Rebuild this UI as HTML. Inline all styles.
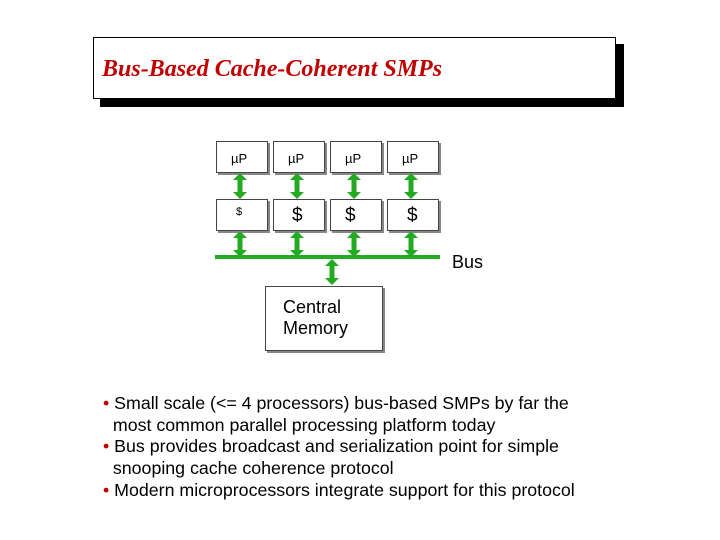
<!DOCTYPE html>
<html><head><meta charset="utf-8"><style>
body{margin:0;width:720px;height:540px;background:#fff;position:relative;overflow:hidden;font-family:"Liberation Sans",sans-serif}
.shadow{position:absolute;left:100px;top:44px;width:524px;height:63px;background:#000}
.title{position:absolute;left:93px;top:37px;width:521px;height:60px;border:1px solid #000;background:#fff}
.title span{position:absolute;left:8px;top:18px;font-family:"Liberation Serif",serif;font-style:italic;font-weight:bold;font-size:24px;color:#c00000}
.box{position:absolute;border:1px solid #444;box-shadow:2px 2px 0 #888;background:#fff;font-size:13px}
.txt{position:absolute;left:103px;font-size:17.8px;line-height:21.7px;top:393px;color:#000;white-space:nowrap}
.b{color:#c00000}
</style></head><body>
<div class="shadow"></div>
<div class="title"><span>Bus-Based Cache-Coherent SMPs</span></div>
<div class="box" style="left:216px;top:141px;width:50px;height:30px"><span style="position:absolute;left:14px;top:9px">µP</span></div>
<div class="box" style="left:273px;top:141px;width:50px;height:30px"><span style="position:absolute;left:14px;top:9px">µP</span></div>
<div class="box" style="left:330px;top:141px;width:50px;height:30px"><span style="position:absolute;left:14px;top:9px">µP</span></div>
<div class="box" style="left:387px;top:141px;width:50px;height:30px"><span style="position:absolute;left:14px;top:9px">µP</span></div>
<div class="box" style="left:216px;top:199px;width:50px;height:30px"><span style="position:absolute;left:19px;top:6px;font-size:11px">$</span></div>
<div class="box" style="left:273px;top:199px;width:50px;height:30px"><span style="position:absolute;left:18px;top:5px;font-size:19px">$</span></div>
<div class="box" style="left:330px;top:199px;width:50px;height:30px"><span style="position:absolute;left:14px;top:5px;font-size:19px">$</span></div>
<div class="box" style="left:387px;top:199px;width:50px;height:30px"><span style="position:absolute;left:19px;top:5px;font-size:19px">$</span></div>
<div class="box" style="left:265px;top:286px;width:116px;height:63px;font-size:18px"><div style="position:absolute;left:17px;top:10px;line-height:21px">Central<br>Memory</div></div>
<svg width="720" height="540" style="position:absolute;left:0;top:0">
<defs><g id="a"><rect x="-2.5" y="6" width="5" height="14" fill="#22aa22"/><polygon points="-7,7 7,7 0,0" fill="#22aa22"/><polygon points="-7,19 7,19 0,26" fill="#22aa22"/></g></defs>
<g fill="#22aa22">
<use href="#a" x="240" y="173"/><use href="#a" x="297" y="173"/><use href="#a" x="354" y="173"/><use href="#a" x="411" y="173"/>
<use href="#a" x="240" y="231"/><use href="#a" x="297" y="231"/><use href="#a" x="354" y="231"/><use href="#a" x="411" y="231"/>
<use href="#a" x="332" y="259"/>
<rect x="215" y="255" width="225" height="4"/>
</g>
<text x="452" y="268" font-family="Liberation Sans" font-size="18">Bus</text>
</svg>
<div class="txt"><span class="b">•</span> Small scale (&lt;= 4 processors) bus-based SMPs by far the<br>&nbsp;&nbsp;most common parallel processing platform today<br><span class="b">•</span> Bus provides broadcast and serialization point for simple<br>&nbsp;&nbsp;snooping cache coherence protocol<br><span class="b">•</span> Modern microprocessors integrate support for this protocol</div>
</body></html>
